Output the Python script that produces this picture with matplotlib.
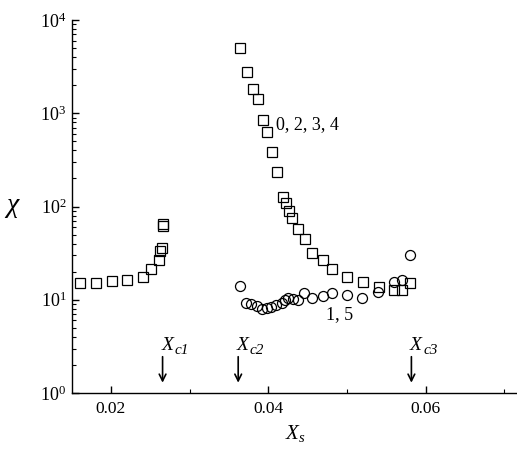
import matplotlib
matplotlib.use("Agg")
import matplotlib.pyplot as plt

plt.rcParams['font.family'] = ['Liberation Serif', 'DejaVu Serif']
plt.rcParams['mathtext.fontset'] = 'custom'
plt.rcParams['mathtext.rm'] = 'Liberation Serif'
plt.rcParams['mathtext.it'] = 'Liberation Serif:italic'
plt.rcParams['mathtext.bf'] = 'Liberation Serif:bold'

# Squares, low-x branch (curves 0, 2, 3, 4)
xs_sq_left = [0.01606, 0.01810, 0.02010, 0.02210, 0.02410, 0.02510, 0.02606,
              0.02626, 0.02643, 0.02656, 0.02660]
chi_sq_left = [15.0, 15.0, 16.0, 16.3, 17.4, 21.4, 26.7, 33.6, 36.2, 62.0, 65.0]

# Squares, high-x branch (curves 0, 2, 3, 4)
xs_sq_right = [0.03642, 0.03723, 0.03799, 0.03863, 0.03926, 0.03981, 0.04041,
               0.04104, 0.04182, 0.04222, 0.04260, 0.04298, 0.04383, 0.04466,
               0.04556, 0.04701, 0.04806, 0.04997, 0.05200, 0.05403, 0.05596,
               0.05702, 0.05806]
chi_sq_right = [4970, 2790, 1824, 1423, 847, 630, 387, 232, 128, 110, 90, 75,
                57, 44.5, 31.5, 26.9, 21.6, 17.4, 15.6, 13.8, 12.7, 12.7, 15.0]

# Circles (curves 1, 5)
xs_circ = [0.03638, 0.03718, 0.03774, 0.03850, 0.03921, 0.03981, 0.04038,
           0.04099, 0.04168, 0.04216, 0.04254, 0.04317, 0.04381, 0.04457,
           0.04552, 0.04696, 0.04803, 0.05001, 0.05196, 0.05399, 0.05596,
           0.05695, 0.05797]
chi_circ = [13.9, 9.16, 8.94, 8.67, 7.90, 8.06, 8.36, 8.72, 9.23, 9.94, 10.57,
            10.1, 9.86, 11.9, 10.4, 11.1, 11.7, 11.2, 10.4, 12.2, 15.4, 16.1, 30.2]

# Critical concentrations
xc_values = [0.02656, 0.03617, 0.05818]
xc_subs = ['c1', 'c2', 'c3']

fig = plt.figure(figsize=(5.17, 4.49), dpi=100)
ax = fig.add_axes([72/517, 56/449, 445/517, 373/449])

mk = dict(linestyle='none', markerfacecolor='none', markeredgecolor='black',
          markeredgewidth=0.9)
ax.plot(xs_sq_left, chi_sq_left, marker='s', markersize=6.5, **mk)
ax.plot(xs_sq_right, chi_sq_right, marker='s', markersize=6.5, **mk)
ax.plot(xs_circ, chi_circ, marker='o', markersize=7.2, **mk)

ax.set_yscale('log')
ax.set_xlim(0.01505, 0.0716)
ax.set_ylim(1, 1e4)

for s in ['top', 'right']:
    ax.spines[s].set_visible(False)
for s in ['left', 'bottom']:
    ax.spines[s].set_linewidth(1.0)

ax.set_xticks([0.02, 0.04, 0.06])
ax.set_xticklabels(['0.02', '0.04', '0.06'])
ax.set_xticks([0.03, 0.05, 0.07], minor=True)
ax.tick_params(axis='both', which='major', direction='in', length=5, width=1,
               labelsize=12.5, pad=6)
ax.tick_params(axis='both', which='minor', direction='in', length=3, width=0.8)
ax.tick_params(axis='y', which='major', pad=4, labelsize=13)

ax.text(0.04095, 748, '0, 2, 3, 4', fontsize=13, va='center', ha='left')
ax.text(0.0473, 6.98, '1, 5', fontsize=13, va='center', ha='left')

for xc, sub in zip(xc_values, xc_subs):
    ax.annotate('', xy=(xc, 1.29), xytext=(xc, 2.45),
                arrowprops=dict(arrowstyle='->', color='black', lw=1.2,
                                mutation_scale=12, shrinkA=0, shrinkB=0))
    ax.annotate('X', xy=(xc, 2.6), xytext=(-1, 0), textcoords='offset points',
                fontsize=14, fontstyle='italic', ha='left', va='bottom')
    ax.annotate(sub, xy=(xc, 2.6), xytext=(8.5, -2), textcoords='offset points',
                fontsize=11, fontstyle='italic', ha='left', va='bottom')

fig.text(12/517, 1 - 207/449, r'$\chi$', fontsize=20, ha='center', va='center')
fig.text(295/517, 1 - 433/449, r'$X_s$', fontsize=15, ha='center', va='center')

fig.savefig('out.png', dpi=100)
